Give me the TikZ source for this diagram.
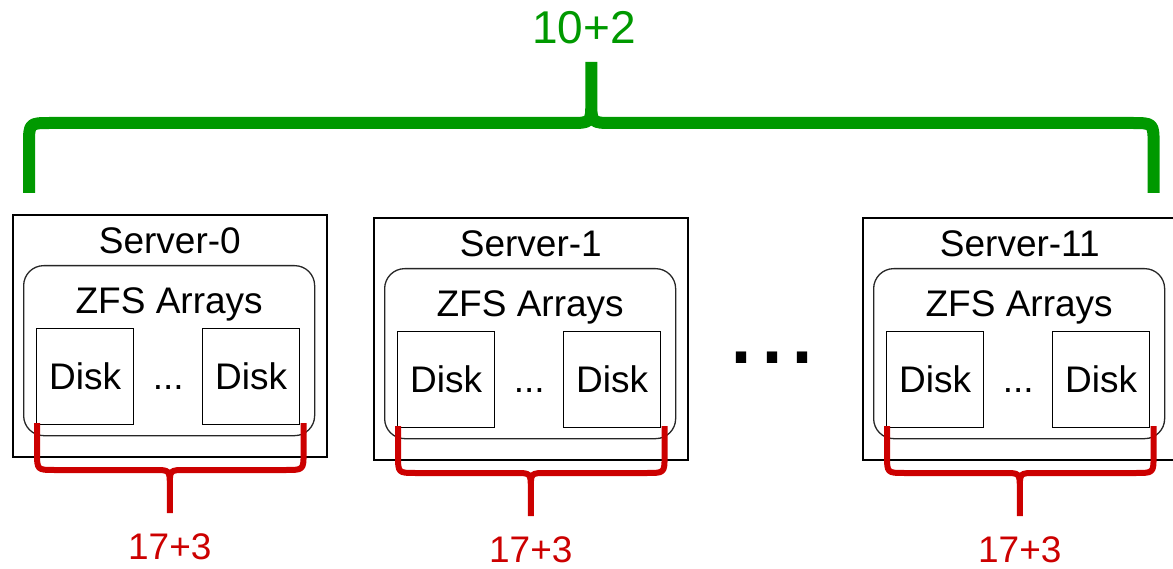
\documentclass[tikz,border=0pt]{standalone}
\usepackage{fontspec}
\setmainfont{Liberation Sans}
\usetikzlibrary{calc}
\definecolor{braceGreen}{RGB}{0,153,0}
\definecolor{braceRed}{RGB}{204,0,0}
\begin{document}
\begin{tikzpicture}[x=1pt,y=-1pt,
  server/.style={draw=black, line width=1.6pt, minimum width=314pt, minimum height=242pt, inner sep=0pt, anchor=north west},
  pool/.style={draw=black!85, line width=1.3pt, rounded corners=20pt, minimum width=291pt, minimum height=170pt, inner sep=0pt, anchor=north west},
  disk/.style={draw=black, line width=1.4pt, minimum width=97pt, minimum height=96pt, inner sep=0pt, anchor=north west, font=\fontsize{37}{44}\selectfont},
  lbl/.style={inner sep=0pt, font=\fontsize{37}{44}\selectfont},
  redlbl/.style={lbl, text=braceRed},
  greenlbl/.style={inner sep=0pt, text=braceGreen, font=\fontsize{46}{54}\selectfont},
  dots/.style={inner sep=0pt, font=\fontsize{108}{120}\selectfont},
  redbrace/.style={draw=braceRed, line width=6pt, line cap=butt, line join=round},
  greenbrace/.style={draw=braceGreen, line width=12pt, line cap=butt, line join=round}
]
\useasboundingbox (0,0) rectangle (1173,569);

% servers
\node[server] (s0)  at (12,214)  {};
\node[server] (s1)  at (373,217) {};
\node[server] (s11) at (862,217) {};

\foreach \s in {0,1,11} {
  \node[lbl, anchor=base] (t\s) at ([shift={(0,40)}]s\s.north) {Server-\s};
  \node[pool] (p\s) at ([shift={(11,51)}]s\s.north west) {};
  \node[lbl, anchor=base] (z\s) at ([shift={(0,49)}]p\s.north) {ZFS Arrays};
  \node[disk] (d\s a) at ([shift={(24,114)}]s\s.north west) {Disk};
  \node[disk] (d\s b) at ([shift={(190,114)}]s\s.north west) {Disk};
  \node[lbl, anchor=base] (e\s) at ($(d\s a.base)!0.5!(d\s b.base)$) {...};
}

% more servers in between
\node[dots, anchor=base] (more) at (772,363) {...};

% per-server braces: 17+3 disks
\foreach \s in {0,1,11} {
  \coordinate (r\s a) at ([shift={(25,209)}]s\s.north west);
  \coordinate (r\s b) at ([shift={(-24,209)}]s\s.north east);
  \coordinate (r\s m) at ([shift={(0,256)}]s\s.north);
  \coordinate (r\s t) at ([shift={(0,299)}]s\s.north);
  \coordinate (r\s p) at (r\s a |- r\s m);
  \coordinate (r\s q) at (r\s b |- r\s m);
  \draw[redbrace]
    (r\s a) -- ($(r\s p)!18pt!(r\s a)$) .. controls (r\s p) .. ($(r\s p)!18pt!(r\s m)$)
      -- ($(r\s m)!16pt!(r\s p)$) .. controls (r\s m) .. ($(r\s m)!16pt!(r\s t)$) -- (r\s t)
    (r\s b) -- ($(r\s q)!18pt!(r\s b)$) .. controls (r\s q) .. ($(r\s q)!18pt!(r\s m)$)
      -- ($(r\s m)!16pt!(r\s q)$) .. controls (r\s m) .. ($(r\s m)!16pt!(r\s t)$);
  \node[redlbl] (n\s) at ([shift={(0,333)}]s\s.north) {17+3};
}

% brace over all servers: 10+2
\coordinate (gl) at ([shift={(17,-21)}]s0.north west);
\coordinate (gr) at ([shift={(-24,-24)}]s11.north east);
\coordinate (gm) at ($(gl)!0.5!(gr) + (0,-70)$);
\coordinate (gt) at ($(gl)!0.5!(gr) + (0,-131)$);
\coordinate (gp) at (gl |- gm);
\coordinate (gq) at (gr |- gm);
\draw[greenbrace]
  (gl) -- ($(gp)!22pt!(gl)$) .. controls (gp) .. ($(gp)!22pt!(gm)$)
    -- ($(gm)!22pt!(gp)$) .. controls (gm) .. ($(gm)!22pt!(gt)$) -- (gt)
  (gr) -- ($(gq)!22pt!(gr)$) .. controls (gq) .. ($(gq)!22pt!(gm)$)
    -- ($(gm)!22pt!(gq)$) .. controls (gm) .. ($(gm)!22pt!(gt)$);
\node[greenlbl] (total) at (584,28) {10+2};
\end{tikzpicture}
\end{document}
